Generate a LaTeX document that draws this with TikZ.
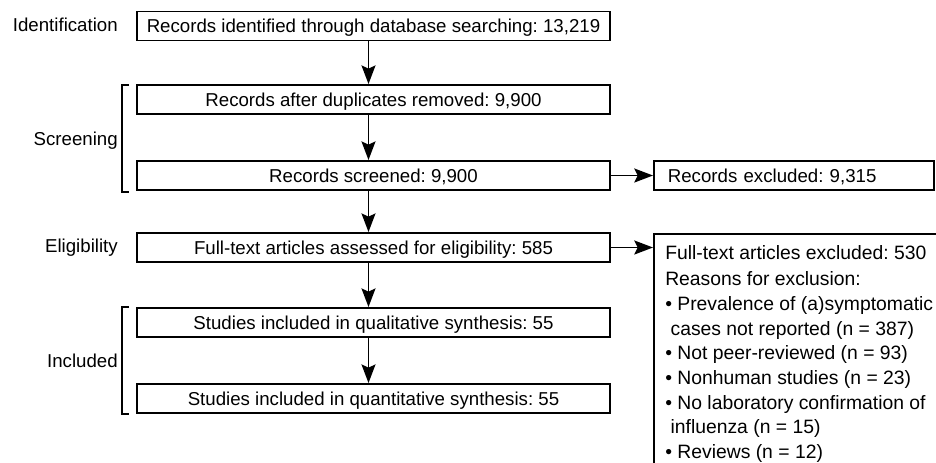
\documentclass[tikz,border=0pt]{standalone}
\usepackage{fontspec}
\setmainfont{Liberation Sans}
\frenchspacing
\usetikzlibrary{arrows.meta}
\tikzset{
 box/.style={draw, line width=1.3pt, minimum width=354.75pt, minimum height=21.9pt, inner sep=0pt, text height=10pt, text depth=0pt},
 side/.style={draw, line width=1.3pt, anchor=west, minimum height=21.9pt, inner xsep=10.5pt, inner ysep=0pt, text width=189pt, align=left, text height=10pt, text depth=0pt},
 stage/.style={anchor=base east, inner sep=0pt},
 arr/.style={-{Stealth[length=14pt,width=10.5pt,inset=2.5pt]}, line width=1.3pt},
 brk/.style={line width=2.1pt},
}
\begin{document}
\begin{tikzpicture}[x=0.75pt,y=-0.75pt,font=\fontsize{14}{18.5}\selectfont]
\clip (0,0) rectangle (936,462);
\coordinate (A) at (368.5,0);
\node[box] (B0) at (373.5,26) {Records identified through database searching: 13,219};
\node[box] (B1) at (373.5,99.5) {Records after duplicates removed: 9,900};
\node[box] (B2) at (373.5,175.5) {Records screened: 9,900};
\node[box] (B3) at (373.5,247.5) {Full-text articles assessed for eligibility: 585};
\node[box] (B4) at (373.5,322.5) {Studies included in qualitative synthesis: 55};
\node[box] (B5) at (373.5,398.5) {Studies included in quantitative synthesis: 55};
\node[side] (R0) at (653,175.5) {Records excluded: 9,315};
\node[draw, line width=1.3pt, anchor=north west, minimum width=300pt, minimum height=250pt] (R1) at (653,233) {};
\node[anchor=north west, inner sep=0pt, align=left, font=\fontsize{14.5}{18.5}\selectfont] (R1t) at (665,245) {Full-text articles excluded: 530\\[1.5pt]
Reasons for exclusion:\\
• Prevalence of (a)symptomatic\\
\hspace*{4pt}cases not reported (n = 387)\\
• Not peer-reviewed (n = 93)\\
• Nonhuman studies (n = 23)\\
• No laboratory confirmation of\\
\hspace*{4pt}influenza (n = 15)\\
• Reviews (n = 12)};
\node[stage] (L0) at (118,31) {Identification};
\node[stage] (L1) at (118,145.5) {Screening};
\node[stage] (L2) at (118,252.5) {Eligibility};
\node[stage] (L3) at (118,367) {Included};
\draw[brk] (129,85) -- (122,85) -- (122,192) -- (129,192);
\draw[brk] (129,307) -- (122,307) -- (122,414) -- (129,414);
\draw[arr] (B0.south -| A) -- (B1.north -| A);
\draw[arr] (B1.south -| A) -- (B2.north -| A);
\draw[arr] (B2.south -| A) -- (B3.north -| A);
\draw[arr] (B3.south -| A) -- (B4.north -| A);
\draw[arr] (B4.south -| A) -- (B5.north -| A);
\draw[arr] (B2.east) -- (R0.west);
\draw[arr] (B3.east) -- (B3.east -| R1.west);
\end{tikzpicture}
\end{document}
